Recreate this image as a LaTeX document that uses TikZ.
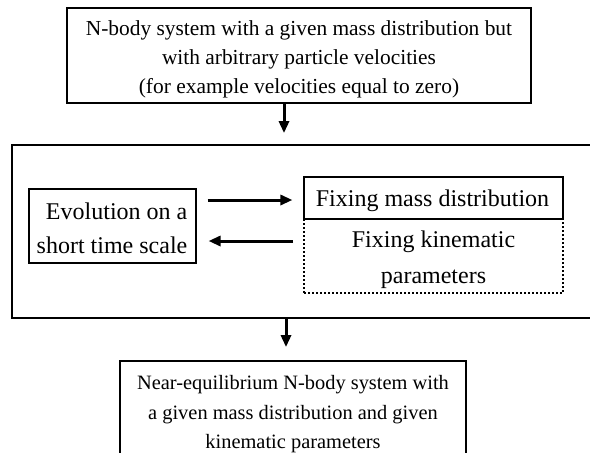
\documentclass[tikz,border=0pt]{standalone}
\usepackage{fontspec}
\setmainfont{Liberation Serif}
\usetikzlibrary{arrows.meta}
\newcommand\fntTop{\fontsize{21.4pt}{29pt}\selectfont}
\newcommand\fntBot{\fontsize{20.4pt}{29.5pt}\selectfont}
\newcommand\fntEvo{\fontsize{24pt}{34pt}\selectfont}
\newcommand\fntKin{\fontsize{24pt}{36pt}\selectfont}
\begin{document}
\begin{tikzpicture}[x=1pt,y=-1pt,
  outerbox/.style={draw, line width=1.8pt, inner sep=0pt},
  innerbox/.style={draw, line width=1.1pt, inner sep=0pt},
  dotbox/.style={draw, line width=1.9pt, dash pattern=on 2pt off 2pt, inner sep=0pt},
  txt/.style={inner sep=0pt, align=center},
  arr/.style={line width=3pt, -{Triangle[length=12pt,width=10pt]}}]
\useasboundingbox (0,0) rectangle (590,453);
\clip (0,0) rectangle (590,453);
\node[outerbox, minimum width=464pt, minimum height=95pt] (top) at (299,55.5) {};
\node[txt, font=\fntTop] (toptext) at ([yshift=-3.5pt]top.center)
  {N-body system with a given mass distribution but\\with arbitrary particle velocities\\(for example velocities equal to zero)};
\node[outerbox, minimum width=600pt, minimum height=173pt] (big) at (312,231.5) {};
\node[innerbox, minimum width=167pt, minimum height=74pt] (evo) at (112.5,226) {};
\node[txt, align=right, font=\fntEvo] (evotext) at ([xshift=-0.5pt,yshift=-2pt]evo.center)
  {Evolution on a\\short time scale};
\node[dotbox, minimum width=259pt, minimum height=74pt] (kin) at (433.5,256) {};
\node[txt, font=\fntKin] (kintext) at ([yshift=-4pt]kin.center)
  {Fixing kinematic\\parameters};
\node[innerbox, minimum width=259pt, minimum height=42pt] (mass) at (433.5,198) {};
\node[txt, font=\fntEvo] (masstext) at ([xshift=-1pt,yshift=-3pt]mass.center)
  {Fixing mass distribution};
\node[outerbox, minimum width=346pt, minimum height=101pt] (bot) at (293,411.5) {};
\node[txt, font=\fntBot] (bottext) at ([yshift=-3pt]bot.center)
  {Near-equilibrium N-body system with\\a given mass distribution and given\\kinematic parameters};
\coordinate (ta) at ([xshift=-15pt]top.south);
\draw[arr, shorten >=11pt] (ta) -- (ta |- big.north);
\coordinate (ba) at ([xshift=-7pt]bot.north);
\draw[arr, shorten >=13pt] (ba |- big.south) -- (ba);
\coordinate (ra) at ([yshift=-2pt]mass.west);
\draw[arr, shorten <=11pt, shorten >=11pt] (ra -| evo.east) -- (ra);
\coordinate (la) at ([yshift=15pt]kin.west);
\draw[arr, shorten <=10pt, shorten >=12pt] (la) -- (la -| evo.east);
\end{tikzpicture}
\end{document}
